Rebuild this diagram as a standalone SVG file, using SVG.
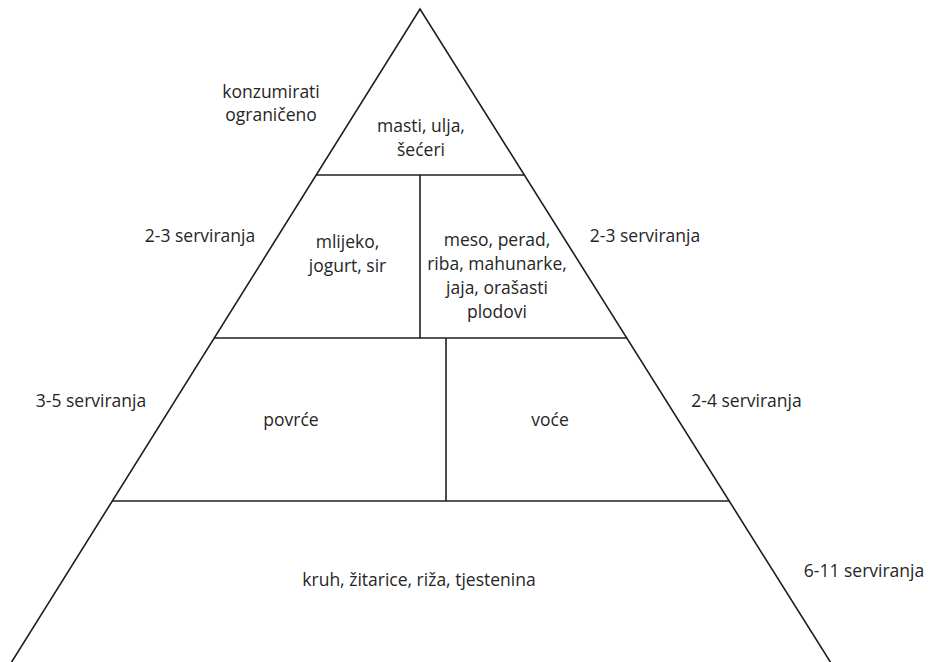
<svg xmlns="http://www.w3.org/2000/svg" width="929" height="662" viewBox="0 0 929 662">
<style>
.l{stroke:#1e1e1e;stroke-width:1.6;fill:none}
.t{font-family:"Open Sans","Liberation Sans",sans-serif;font-size:17.5px;fill:#262626;text-anchor:middle}
</style>
<rect width="929" height="662" fill="#fff"/>
<g id="connectors">
<polyline class="l" points="11,663 420,9 831,663"/>
<line class="l" x1="316" y1="175" x2="525" y2="175"/>
<line class="l" x1="214" y1="338" x2="627" y2="338"/>
<line class="l" x1="112" y1="501" x2="729" y2="501"/>
<line class="l" x1="420" y1="175" x2="420" y2="338"/>
<line class="l" x1="446" y1="338" x2="446" y2="501"/>
</g>
<g id="tier-top">
<text class="t" x="421" y="132">masti, ulja,</text>
<text class="t" x="421" y="156">šećeri</text>
</g>
<g id="label-top">
<text class="t" x="271" y="98">konzumirati</text>
<text class="t" x="271" y="121">ograničeno</text>
</g>
<g id="tier-dairy">
<text class="t" x="347.5" y="248">mlijeko,</text>
<text class="t" x="347.5" y="272">jogurt, sir</text>
</g>
<g id="tier-meat">
<text class="t" x="497" y="246">meso, perad,</text>
<text class="t" x="497" y="270">riba, mahunarke,</text>
<text class="t" x="497" y="294">jaja, orašasti</text>
<text class="t" x="497" y="318">plodovi</text>
</g>
<g id="label-dairy"><text class="t" x="200" y="242">2-3 serviranja</text></g>
<g id="label-meat"><text class="t" x="645" y="242">2-3 serviranja</text></g>
<g id="tier-veg"><text class="t" x="291" y="426">povrće</text></g>
<g id="tier-fruit"><text class="t" x="550" y="426">voće</text></g>
<g id="label-veg"><text class="t" x="91" y="407">3-5 serviranja</text></g>
<g id="label-fruit"><text class="t" x="746.5" y="407">2-4 serviranja</text></g>
<g id="tier-bread"><text class="t" x="419" y="586">kruh, žitarice, riža, tjestenina</text></g>
<g id="label-bread"><text class="t" x="864" y="577">6-11 serviranja</text></g>
</svg>
